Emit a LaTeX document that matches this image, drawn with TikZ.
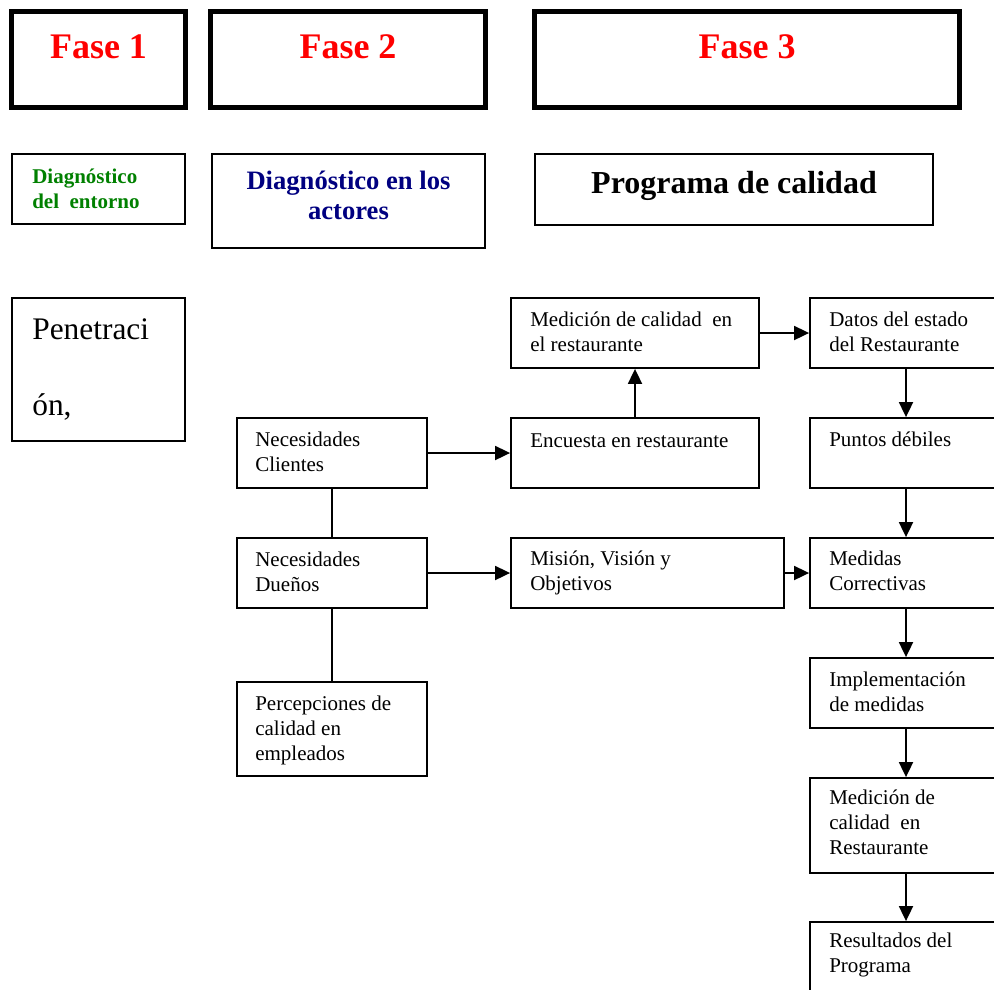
\documentclass[tikz,border=0pt]{standalone}
\usepackage{fontspec}
\setmainfont{Liberation Serif}
\usetikzlibrary{arrows.meta}
\definecolor{phasered}{RGB}{255,0,0}
\definecolor{envgreen}{RGB}{0,128,0}
\definecolor{actnavy}{RGB}{0,0,128}

\begin{document}
\begin{tikzpicture}[x=1pt,y=-1pt,
  phasebox/.style={draw, line width=4.5pt, inner sep=0pt, minimum height=96pt},
  box/.style={draw, line width=1.8pt, inner sep=0pt, minimum width=190pt, minimum height=70pt},
  phasetxt/.style={anchor=base, inner sep=0pt, text=phasered, font=\fontsize{36}{40}\selectfont\bfseries},
  lbl/.style={anchor=north west, inner sep=0pt, align=left, font=\fontsize{21}{25}\selectfont},
  link/.style={line width=1.8pt},
  arr/.style={link, -{Triangle[length=15pt,width=14pt]}},
]
\useasboundingbox (0,0) rectangle (994,989);
\clip (0,0) rectangle (994,989);

% phase headers
\node[phasebox, minimum width=174pt] (f1) at (98.5,59.5) {};
\node[phasebox, minimum width=275pt] (f2) at (348,59.5) {};
\node[phasebox, minimum width=425pt] (f3) at (747,59.5) {};
\node[phasetxt] (f1t) at ([yshift=-49.5pt]f1.north) {Fase 1};
\node[phasetxt] (f2t) at ([yshift=-49.5pt]f2.north) {Fase 2};
\node[phasetxt] (f3t) at ([yshift=-49.5pt]f3.north) {Fase 3};

% phase titles
\node[box, minimum width=173pt] (env) at (98.5,189) {};
\node[lbl, font=\fontsize{21}{25}\selectfont\bfseries, text=envgreen] (envt)
  at ([shift={(21pt,-13pt)}]env.north west) {\strut Diagnóstico\\del\ \ entorno};
\node[box, minimum width=273pt, minimum height=94pt] (act) at (348.5,201) {};
\node[anchor=north, inner sep=0pt, align=center, text=actnavy,
  font=\fontsize{26.6}{30.5}\selectfont\bfseries] (actt)
  at ([yshift=-14.6pt]act.north) {\strut Diagnóstico en los\\actores};
\node[box, minimum width=398pt, minimum height=71pt] (prog) at (734,189.5) {};
\node[anchor=base, inner sep=0pt, font=\fontsize{32}{36}\selectfont\bfseries] (progt)
  at ([yshift=-40pt]prog.north) {Programa de calidad};

% phase 1 content
\node[box, minimum width=173pt, minimum height=143pt] (pen) at (98.5,369.5) {};
\node[lbl, font=\fontsize{31.4}{76}\selectfont] (pent)
  at ([shift={(21pt,11pt)}]pen.north west) {\strut Penetraci\\ón,};

% phase 2 content
\node[box] (nc) at (332,453) {};
\node[box] (nd) at (332,573) {};
\node[box, minimum height=94pt] (per) at (332,729) {};
\node[lbl] (nct) at ([shift={(19pt,-11.5pt)}]nc.north west) {\strut Necesidades\\Clientes};
\node[lbl] (ndt) at ([shift={(19pt,-11.5pt)}]nd.north west) {\strut Necesidades\\Dueños};
\node[lbl] (pert) at ([shift={(19pt,-11.5pt)}]per.north west) {\strut Percepciones de\\calidad en\\empleados};

% phase 3 content
\node[box, minimum width=248pt] (med) at (635,333) {};
\node[box, minimum width=248pt] (enc) at (635,453) {};
\node[box, minimum width=273pt] (mis) at (647.5,573) {};
\node[box, minimum width=192pt] (dat) at (906,333) {};
\node[box, minimum width=192pt] (pun) at (906,453) {};
\node[box, minimum width=192pt] (mdd) at (906,573) {};
\node[box, minimum width=192pt] (imp) at (906,693) {};
\node[box, minimum width=192pt, minimum height=95pt] (mrs) at (906,825.5) {};
\node[box, minimum width=192pt] (res) at (906,957) {};

\node[lbl] (medt) at ([shift={(20pt,-11.5pt)}]med.north west) {\strut Medición de calidad\ \ en\\el restaurante};
\node[lbl] (enct) at ([shift={(20pt,-12.5pt)}]enc.north west) {\strut Encuesta en restaurante};
\node[lbl] (mist) at ([shift={(20pt,-10.5pt)}]mis.north west) {\strut Misión, Visión y\\Objetivos};
\node[lbl] (datt) at ([shift={(20pt,-11.5pt)}]dat.north west) {\strut Datos del estado\\del Restaurante};
\node[lbl] (punt) at ([shift={(20pt,-11.5pt)}]pun.north west) {\strut Puntos débiles};
\node[lbl] (mddt) at ([shift={(20pt,-10.5pt)}]mdd.north west) {\strut Medidas\\Correctivas};
\node[lbl] (impt) at ([shift={(20pt,-11.5pt)}]imp.north west) {\strut Implementación\\de medidas};
\node[lbl] (mrst) at ([shift={(20pt,-9.5pt)}]mrs.north west) {\strut Medición de\\calidad\ \ en\\Restaurante};
\node[lbl] (rest) at ([shift={(20pt,-8.5pt)}]res.north west) {\strut Resultados del\\Programa};

% connectors
\draw[link] (nc) -- (nd);
\draw[link] (nd) -- (per);
\draw[arr] (nc) -- (enc);
\draw[arr] (nd) -- (mis);
\draw[arr] (enc) -- (med);
\draw[arr] (med) -- (dat);
\draw[arr] (mis) -- (mdd);
\draw[arr] (dat) -- (pun);
\draw[arr] (pun) -- (mdd);
\draw[arr] (mdd) -- (imp);
\draw[arr] (imp) -- (mrs);
\draw[arr] (mrs) -- (res);
\end{tikzpicture}
\end{document}
